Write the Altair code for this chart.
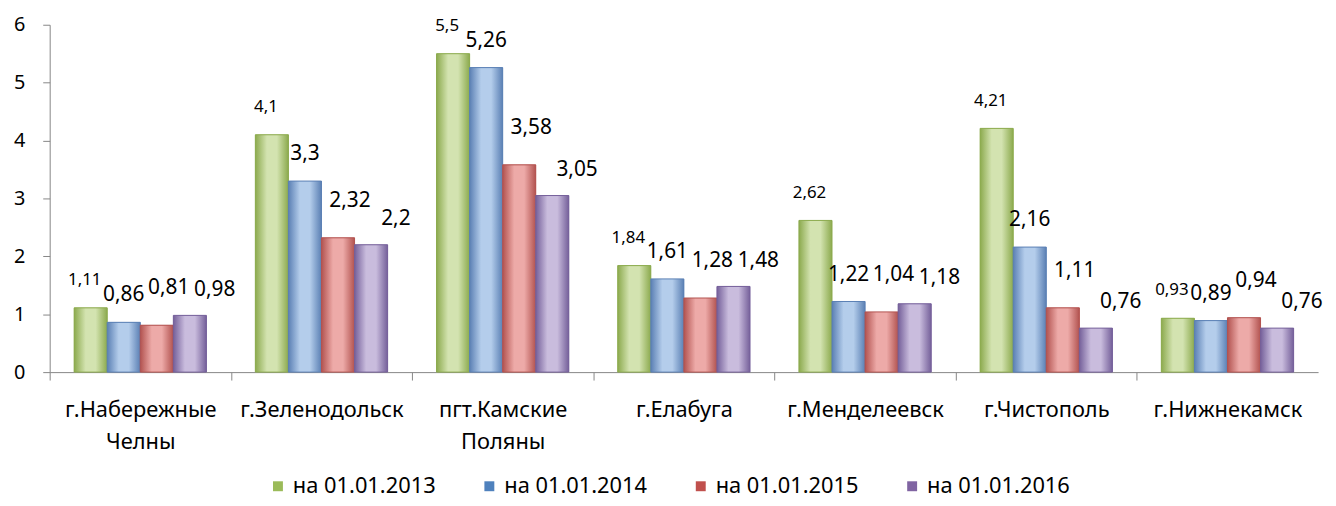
import altair as alt
import pandas as pd

cities = ["г.Набережные Челны", "г.Зеленодольск", "пгт.Камские Поляны", "г.Елабуга",
          "г.Менделеевск", "г.Чистополь", "г.Нижнекамск"]
series = ["на 01.01.2013", "на 01.01.2014", "на 01.01.2015", "на 01.01.2016"]
v2013 = [1.11, 4.1, 5.5, 1.84, 2.62, 4.21, 0.93]
v2014 = [0.86, 3.3, 5.26, 1.61, 1.22, 2.16, 0.89]
v2015 = [0.81, 2.32, 3.58, 1.28, 1.04, 1.11, 0.94]
v2016 = [0.98, 2.2, 3.05, 1.48, 1.18, 0.76, 0.76]
y_ticks = [0, 1, 2, 3, 4, 5, 6]

rows = []
for s, vals in zip(series, [v2013, v2014, v2015, v2016]):
    for c, v in zip(cities, vals):
        rows.append({"city": c, "series": s, "value": v, "label": str(v).replace(".", ",")})
df = pd.DataFrame(rows)

FONT = "Noto Sans"
W, H = 1278, 350
step = W / len(cities)

flat = ["#9BBB59", "#4F81BD", "#C0504D", "#8064A2"]
edges = ["#8CAA4E", "#5B80B4", "#B25350", "#75609A"]
mids = ["#D3E3B0", "#B4CDEB", "#EDAAA8", "#C9BCDD"]
label_dx = [-6, 0, 12, 25]
label_dy = [-28, -27, -37, -26]
label_size = [17, 21, 21, 21]

x_enc = alt.X("city:N", sort=cities, title=None,
              scale=alt.Scale(paddingInner=0.27, paddingOuter=0.135),
              axis=alt.Axis(labelExpr="split(datum.label, ' ')", labelAngle=0,
                            labelFontSize=22, labelFont=FONT, labelColor="#000000",
                            labelLineHeight=32, labelPadding=20, labelOverlap=False,
                            tickOffset=-step / 2, labelOffset=step / 2, tickSize=8,
                            domainColor="#868686", tickColor="#868686"))
y_enc = alt.Y("value:Q", title=None,
              scale=alt.Scale(domain=[0, 6], nice=False),
              axis=alt.Axis(values=y_ticks, format="d", grid=False, labelFontSize=20,
                            labelFont=FONT, labelColor="#000000", tickSize=7, labelPadding=18,
                            domainColor="#868686", tickColor="#868686"))
xo = alt.XOffset("series:N", sort=series, scale=alt.Scale(domain=series))

base = alt.Chart(df).mark_bar().encode(
    x=x_enc, y=y_enc, xOffset=xo,
    color=alt.Color("series:N", sort=series,
                    scale=alt.Scale(domain=series, range=flat),
                    legend=alt.Legend(title=None, orient="none", direction="horizontal",
                                      legendX=219, legendY=H + 104,
                                      labelFontSize=22, labelFont=FONT, labelColor="#000000",
                                      symbolType="square", symbolSize=100,
                                      symbolStrokeWidth=0, columnPadding=43, labelOffset=4)),
)

layers = [base]
for i, s in enumerate(series):
    grad = alt.LinearGradient(gradient="linear", x1=0, y1=0, x2=1, y2=0, stops=[
        alt.GradientStop(offset=0, color=edges[i]),
        alt.GradientStop(offset=0.35, color=mids[i]),
        alt.GradientStop(offset=0.65, color=mids[i]),
        alt.GradientStop(offset=1, color=edges[i]),
    ])
    bars = alt.Chart(df).transform_filter(alt.datum.series == s).mark_bar(
        fill=grad, stroke=edges[i], strokeWidth=1
    ).encode(x=alt.X("city:N", sort=cities), y=alt.Y("value:Q"), xOffset=xo)
    txt = alt.Chart(df).transform_filter(alt.datum.series == s).mark_text(
        baseline="middle", dy=label_dy[i], dx=label_dx[i], fontSize=label_size[i], font=FONT,
        color="#000000"
    ).encode(x=alt.X("city:N", sort=cities), y=alt.Y("value:Q"), xOffset=xo, text="label:N")
    layers += [bars, txt]

chart = alt.layer(*layers).properties(width=W, height=H).configure_view(stroke=None)

chart.save("out.html", embed_options={"renderer": "svg", "actions": False})
